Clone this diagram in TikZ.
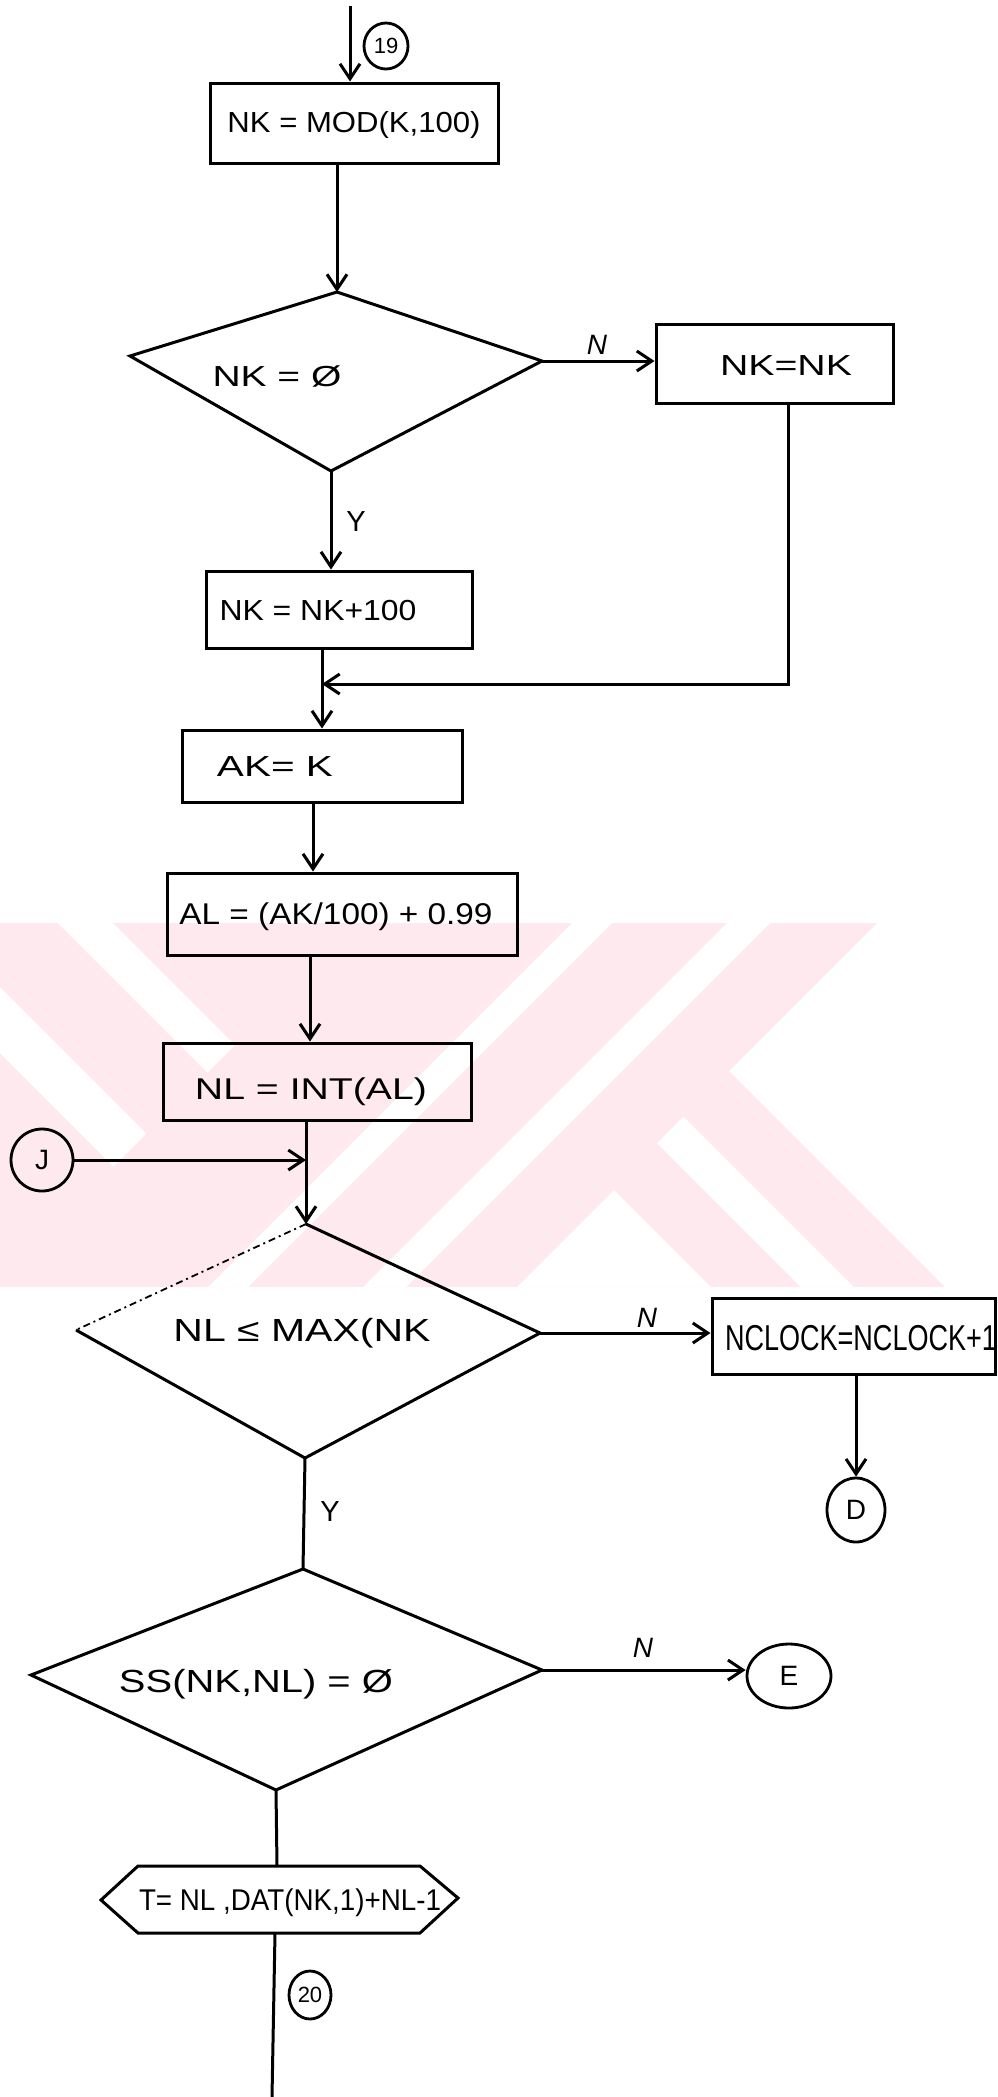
\documentclass[tikz,border=0pt]{standalone}
\usepackage{fontspec}
\setmainfont{Liberation Sans}
\usepackage{graphicx}
\usetikzlibrary{arrows.meta,shapes.geometric,calc}
\newcommand{\fitw}[2]{\resizebox{#1pt}{\height}{#2}}
\definecolor{wm}{RGB}{253,233,238}
\begin{document}
\begin{tikzpicture}[x=1pt,y=-1pt,
  ln/.style={line width=3pt},
  arr/.style={line width=3pt,-{Straight Barb[length=15pt,width=20pt]}},
  box/.style={draw,line width=3pt,inner sep=0pt},
  txt/.style={inner sep=0pt,font=\fontsize{29}{33}\selectfont},
  lab/.style={inner sep=0pt,font=\fontsize{28}{32}\selectfont\itshape},
  circ/.style={draw,ellipse,line width=2.8pt,inner sep=0pt,font=\fontsize{28}{32}\selectfont}]
\fill[white] (0,0) rectangle (997,2097);
\useasboundingbox (0,0) rectangle (997,2097);
% watermark
\fill[wm] (0,923) -- (877,923) -- (729,1071) -- (945,1287) -- (0,1287) -- cycle;
\fill[white] (58,923) -- (113,923) -- (235,1045) -- (207.5,1072.5) -- cycle;
\fill[white] (0,987) -- (146.5,1133.5) -- (113.5,1166.5) -- (0,1053) -- cycle;
\fill[white] (572,923) -- (612,923) -- (248,1287) -- (208,1287) -- cycle;
\fill[white] (727,923) -- (770,923) -- (406,1287) -- (363,1287) -- cycle;
\fill[white] (614,1190) -- (517,1287) -- (711,1287) -- cycle;
\fill[white] (657,1143) -- (683.5,1116.5) -- (854,1287) -- (801,1287) -- cycle;

% top
\coordinate (top) at (350,6);
\node[circ,minimum width=44,minimum height=46,font=\fontsize{22}{24}\selectfont] (c19) at (386,46) {19};
\node[box,minimum width=288,minimum height=80] (b1) at (354,123) {};
\node[txt] (t1) at (354,125) {\fitw{253}{NK = MOD(K,100)}};
\draw[arr] (top) -- (top |- b1.north);

% diamond 1
\coordinate (d1n) at (337,292);
\coordinate (d1w) at (130,356);
\coordinate (d1e) at (542,361);
\coordinate (d1s) at (331,471);
\draw[ln,line join=miter] (d1n) -- (d1e) -- (d1s) -- (d1w) -- cycle;
\node[txt] (t2) at (277,376) {\fitw{129}{NK = Ø}};
\draw[arr] (d1n |- b1.south) -- (d1n);

\node[box,minimum width=237,minimum height=79] (b2) at (774.5,363.5) {};
\node[txt] (t3) at (786,366) {\fitw{132}{NK=NK}};
\draw[arr] (d1e) -- (d1e -| b2.west);
\node[lab] (n1) at (597,345) {N};

\node[box,minimum width=266,minimum height=77] (b3) at (339,609.5) {};
\node[txt] (t4) at (318,611) {\fitw{197}{NK = NK+100}};
\draw[arr] (d1s) -- (d1s |- b3.north);
\node[txt] (y1) at (356,522) {Y};

\node[box,minimum width=280,minimum height=72] (b4) at (322,766) {};
\node[txt] (t5) at (275,767) {\fitw{116}{AK= K}};
\draw[arr] (b4.north |- b3.south) -- (b4.north);
\coordinate (j1) at (788,684);
\draw[arr] (j1 |- b2.south) -- (j1) -- (j1 -| b4.north);

\node[box,minimum width=350,minimum height=82] (b5) at (342,914) {};
\node[txt,font=\fontsize{30}{34}\selectfont] (t6) at (336,917) {\fitw{313}{AL = (AK/100) + 0.99}};
\draw[arr] ([xshift=-9pt]b4.south) -- ([xshift=-9pt]b4.south |- b5.north);

\node[box,minimum width=308,minimum height=77] (b6) at (317,1081.5) {};
\node[txt,font=\fontsize{30}{34}\selectfont] (t7) at (311,1092) {\fitw{232}{NL = INT(AL)}};
\draw[arr] ([xshift=-32pt]b5.south) -- ([xshift=-32pt]b5.south |- b6.north);

% diamond 2
\coordinate (d2n) at (306,1224);
\coordinate (d2w) at (76,1330);
\coordinate (d2e) at (540,1333);
\coordinate (d2s) at (305,1458);
\draw[line width=1.8pt,dash pattern=on 7pt off 4pt on 2pt off 4pt] (d2n) -- (d2w);
\draw[ln,line join=miter] (d2w) -- (d2s) -- (d2e) -- (d2n);
\node[txt,font=\fontsize{32}{36}\selectfont] (t8) at (302,1333) {\fitw{257}{NL ≤ MAX(NK}};
\draw[arr] (d2n |- b6.south) -- (d2n);
\node[circ,minimum width=62,minimum height=62] (J) at (42,1160) {J};
\draw[arr] (J.east) -- (J.east -| d2n);

\node[box,minimum width=283,minimum height=76] (b7) at (853.5,1336) {};
\node[txt,font=\fontsize{36}{40}\selectfont] (t9) at (861,1338) {\fitw{272}{NCLOCK=NCLOCK+1}};
\draw[arr] (d2e) -- (d2e -| b7.west);
\node[lab] (n2) at (647,1318) {N};
\node[circ,minimum width=58,minimum height=64] (D) at (856,1510) {D};
\draw[arr] (D.north |- b7.south) -- (D.north);

% diamond 3
\coordinate (d3n) at (303,1569);
\coordinate (d3w) at (31,1675);
\coordinate (d3e) at (542,1670);
\coordinate (d3s) at (276,1790);
\draw[ln,line join=miter] (d3n) -- (d3e) -- (d3s) -- (d3w) -- cycle;
\draw[ln] (d2s) -- (d3n);
\node[txt] (y2) at (330,1512) {Y};
\node[txt,font=\fontsize{32}{36}\selectfont] (t10) at (256,1684) {\fitw{274}{SS(NK,NL) = Ø}};
\node[circ,minimum width=84,minimum height=64] (E) at (789,1676) {E};
\draw[arr] (d3e) -- (d3e -| E.west);
\node[lab] (n3) at (643,1648) {N};

% hexagon
\coordinate (hw) at (101,1900);
\coordinate (hnw) at (138,1866);
\coordinate (hne) at (420,1866);
\coordinate (he) at (458,1898);
\coordinate (hse) at (420,1933);
\coordinate (hsw) at (138,1933);
\coordinate (hxn) at (277,1866);
\coordinate (hxs) at (275,1933);
\coordinate (bot) at (272,2097);
\draw[ln,line join=miter] (hw) -- (hnw) -- (hne) -- (he) -- (hse) -- (hsw) -- cycle;
\node[txt,font=\fontsize{30}{34}\selectfont] (t11) at (290,1903) {\fitw{302}{T= NL ,DAT(NK,1)+NL-1}};
\draw[ln] (d3s) -- (hxn);
\draw[ln] (hxs) -- (bot);
\node[circ,minimum width=42,minimum height=48,font=\fontsize{22}{24}\selectfont] (c20) at (310,1995) {20};
\end{tikzpicture}
\end{document}
